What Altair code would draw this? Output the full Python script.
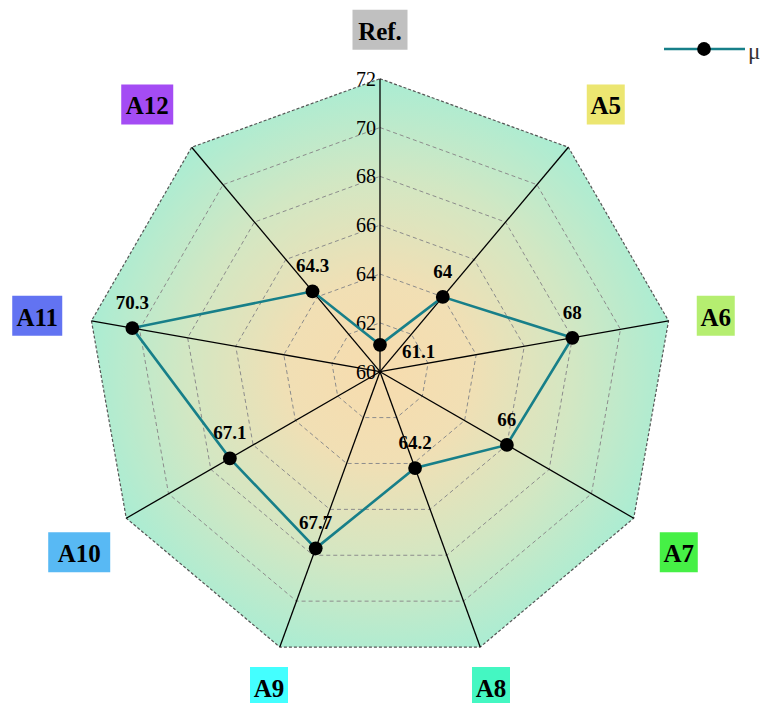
import pandas as pd
import altair as alt

# ---- data ----
axis_names = ["Ref.", "A5", "A6", "A7", "A8", "A9", "A10", "A11", "A12"]
mu_values = [61.1, 64.0, 68.0, 66.0, 64.2, 67.7, 67.1, 70.3, 64.3]
mu_text = ["61.1", "64", "68", "66", "64.2", "67.7", "67.1", "70.3", "64.3"]
grid_levels = [62, 64, 66, 68, 70]
outer_level = 72
tick_values = [60, 62, 64, 66, 68, 70, 72]
tick_text = ["60", "62", "64", "66", "68", "70", "72"]

# ---- styling ----
label_colors = ["#c0c0c0", "#ece671", "#b5ee70", "#46f046", "#44f7c2",
                "#44ffff", "#58b9f4", "#6273f2", "#a44cf4"]
box_widths = [55, 38, 38, 38, 38, 38, 62, 50, 52]
label_nudge_x = [0, 4, -4, 0, -7, 7, -2, -3, -11]   # screen px, right
label_nudge_y = [3, -3, 4, 8, -9, -9, 8, 4, -3]     # screen px, down
BOX_H = 40
R_MIN, R_MAX = 60, 72
RADIUS_PX = 293
LABEL_R = 345
N = len(axis_names)
SERIF = "Liberation Serif"
TEAL = "#177f89"

W, H = 752, 695
xs = alt.Scale(domain=[-372, 380], nice=False, zero=False)
ys = alt.Scale(domain=[-331.3, 363.7], nice=False, zero=False)

polar_x = f"(datum.v - {R_MIN}) / {R_MAX - R_MIN} * {RADIUS_PX} * sin(2 * PI * datum.i / {N})"
polar_y = f"(datum.v - {R_MIN}) / {R_MAX - R_MIN} * {RADIUS_PX} * cos(2 * PI * datum.i / {N})"


def xy():
    return dict(x=alt.X("px:Q", scale=xs, axis=None),
                y=alt.Y("py:Q", scale=ys, axis=None))


def polar(chart):
    return chart.transform_calculate(px=polar_x, py=polar_y)


# background polygon
bg_df = pd.DataFrame({"i": list(range(N)), "v": [outer_level] * N})
grad = alt.RadialGradient(
    gradient="radial",
    stops=[alt.GradientStop(color="#f7dcae", offset=0),
           alt.GradientStop(color="#f1dfb4", offset=0.3),
           alt.GradientStop(color="#d2e7c3", offset=0.65),
           alt.GradientStop(color="#a7edd4", offset=1)],
    x1=0.5, y1=0.516, r1=0, x2=0.5, y2=0.516, r2=0.52)
background = polar(alt.Chart(bg_df).mark_line(
    interpolate="linear-closed", fill=grad, stroke="#555555",
    strokeDash=[3, 2], strokeWidth=1.2)).encode(
    **xy(), order=alt.Order("i:Q"))

# grid rings
grid_df = pd.DataFrame([{"lvl": lv, "i": i, "v": lv}
                        for lv in grid_levels for i in range(N)])
grid = polar(alt.Chart(grid_df).mark_line(
    interpolate="linear-closed", stroke="#8c8c8c", strokeDash=[4, 3],
    strokeWidth=1)).encode(**xy(), detail="lvl:N", order=alt.Order("i:Q"))

# spokes
spoke_df = pd.DataFrame({"i": list(range(N)), "v": [outer_level] * N})
spokes = polar(alt.Chart(spoke_df)).transform_calculate(zero="0").mark_rule(
    color="black", strokeWidth=1.3).encode(
    x=alt.X("zero:Q", scale=xs, axis=None),
    y=alt.Y("zero:Q", scale=ys, axis=None),
    x2="px:Q", y2="py:Q")

# radial tick labels along Ref. axis
tick_df = pd.DataFrame({"i": [0] * len(tick_values), "v": tick_values, "t": tick_text})
ticks = polar(alt.Chart(tick_df).mark_text(
    align="right", baseline="middle", dx=-4, dy=1, font=SERIF, fontSize=20,
    color="black")).encode(**xy(), text="t:N")

# data series
mu_df = pd.DataFrame({"i": list(range(N)), "v": mu_values, "t": mu_text})
mu_line = polar(alt.Chart(mu_df).mark_line(
    interpolate="linear-closed", stroke=TEAL, strokeWidth=2.6)).encode(
    **xy(), order=alt.Order("i:Q"))
mu_pts = polar(alt.Chart(mu_df).mark_circle(
    color="black", size=190, opacity=1)).encode(**xy())
mu_lbl = polar(alt.Chart(mu_df).transform_filter("datum.i > 0").mark_text(
    font=SERIF, fontWeight="bold", fontSize=19, dy=-25, color="black")).encode(
    **xy(), text="t:N")
mu_lbl_ref = polar(alt.Chart(mu_df).transform_filter("datum.i == 0").mark_text(
    font=SERIF, fontWeight="bold", fontSize=19, align="left", dx=22, dy=7,
    color="black")).encode(**xy(), text="t:N")

# axis name labels with coloured boxes
lab_df = pd.DataFrame({"i": list(range(N)), "name": axis_names,
                       "col": label_colors, "w": box_widths,
                       "nx": label_nudge_x, "ny": label_nudge_y})
lab_base = alt.Chart(lab_df).transform_calculate(
    lx=f"{LABEL_R} * sin(2 * PI * datum.i / {N}) + datum.nx",
    ly=f"{LABEL_R} * cos(2 * PI * datum.i / {N}) - datum.ny",
).transform_calculate(
    bx1="datum.lx - datum.w / 2", bx2="datum.lx + datum.w / 2",
    by1=f"datum.ly - {BOX_H / 2}", by2=f"datum.ly + {BOX_H / 2}")
boxes = lab_base.mark_rect().encode(
    x=alt.X("bx1:Q", scale=xs, axis=None), x2="bx2:Q",
    y=alt.Y("by1:Q", scale=ys, axis=None), y2="by2:Q",
    fill=alt.Fill("col:N", scale=None))
names = lab_base.mark_text(font=SERIF, fontWeight="bold", fontSize=25,
                           baseline="middle", dy=2, color="black").encode(
    x=alt.X("lx:Q", scale=xs, axis=None),
    y=alt.Y("ly:Q", scale=ys, axis=None), text="name:N")

# legend
leg_df = pd.DataFrame({"s": ["μ"]})
leg_line = alt.Chart(leg_df).mark_rule(color=TEAL, strokeWidth=2.6).encode(
    x=alt.value(656), x2=alt.value(737), y=alt.value(41))
leg_pt = alt.Chart(leg_df).mark_circle(color="black", size=190, opacity=1).encode(
    x=alt.value(696), y=alt.value(41))
leg_txt = alt.Chart(leg_df).mark_text(font=SERIF, fontSize=23, align="left",
                                      baseline="middle", color="#333333").encode(
    x=alt.value(740), y=alt.value(44), text="s:N")

chart = alt.layer(background, grid, spokes, ticks, mu_line, mu_pts, mu_lbl,
                  mu_lbl_ref, boxes, names, leg_line, leg_pt, leg_txt).properties(
    width=W, height=H, padding=0,
    autosize=alt.AutoSizeParams(type="none"),
).configure_view(stroke=None)

chart.save("out.html", embed_options={"renderer": "svg", "actions": False})
